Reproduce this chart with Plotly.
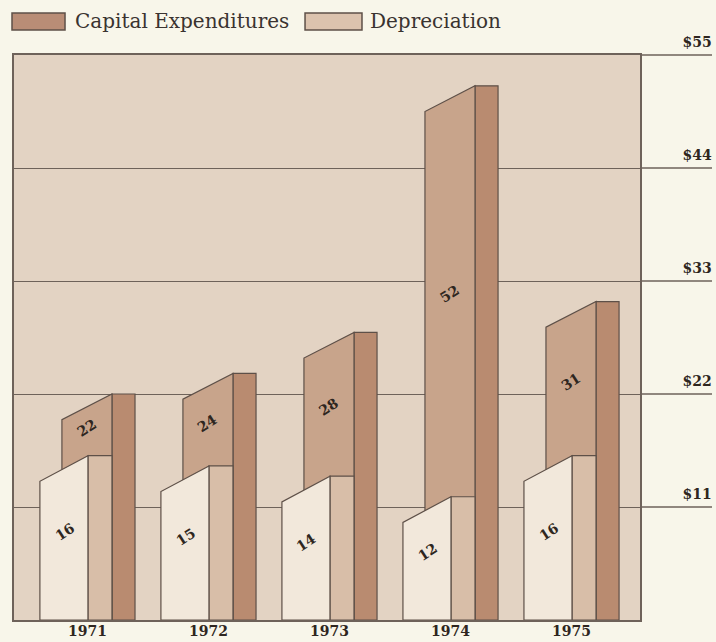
import plotly.graph_objects as go

# ---- data ----
years = ["1971", "1972", "1973", "1974", "1975"]
capital_expenditures = [22, 24, 28, 52, 31]
depreciation = [16, 15, 14, 12, 16]
y_tick_values = [11, 22, 33, 44, 55]
y_tick_labels = ["$11", "$22", "$33", "$44", "$55"]

# ---- styling ----
PAGE_BG = "#f8f6ea"
PLOT_BG = "#e3d3c3"
CAP_FRONT = "#c8a48b"
CAP_SIDE = "#b98b70"
DEP_FRONT = "#f2e8db"
DEP_SIDE = "#d8bea8"
EDGE = "#5e5048"
GRID = "#6e625a"
TEXT = "#2e2620"
SERIF_BOLD = "DejaVu Serif"

# geometry of a group (in category units; 1 unit = spacing between years)
DEP_L, DEP_R, DEP_S = -0.393, 0.004, 0.2025
CAP_L, CAP_R, CAP_S = -0.211, 0.2025, 0.393
SLANT = 2.5  # drop (value units) of the front-face top at its left edge

fig = go.Figure()


def poly(xs, ys, color):
    fig.add_trace(go.Scatter(
        x=xs + [xs[0]], y=ys + [ys[0]], mode="lines", fill="toself",
        fillcolor=color, line=dict(color=EDGE, width=1.2),
        hoverinfo="skip", showlegend=False))


for i, (c, d) in enumerate(zip(capital_expenditures, depreciation)):
    # capital expenditures (behind)
    poly([i + CAP_R, i + CAP_R, i + CAP_S, i + CAP_S], [0, c, c, 0], CAP_SIDE)
    poly([i + CAP_L, i + CAP_L, i + CAP_R, i + CAP_R], [0, c - SLANT, c, 0], CAP_FRONT)
    # depreciation (in front)
    poly([i + DEP_R, i + DEP_R, i + DEP_S, i + DEP_S], [0, d, d, 0], DEP_SIDE)
    poly([i + DEP_L, i + DEP_L, i + DEP_R, i + DEP_R], [0, d - SLANT, d, 0], DEP_FRONT)

# value labels
for i, (c, d) in enumerate(zip(capital_expenditures, depreciation)):
    fig.add_annotation(x=i - 0.01, y=(c + d) / 2 - 0.3, text=str(c), showarrow=False,
                       textangle=-33, font=dict(family=SERIF_BOLD, size=14, color=TEXT,
                                                weight="bold"))
    fig.add_annotation(x=i - 0.19, y=d / 2 + 0.6, text=str(d), showarrow=False,
                       textangle=-33, font=dict(family=SERIF_BOLD, size=14, color=TEXT,
                                                weight="bold"))

ymax = y_tick_values[-1]
# gridline extensions into the label area on the right
for v in y_tick_values:
    fig.add_shape(type="line", xref="paper", yref="paper", x0=1, x1=1.115,
                  y0=v / ymax, y1=v / ymax, line=dict(color=GRID, width=1.4))

# custom legend
legend_items = [("Capital Expenditures", "#b98d76", -0.0032, 0.0815, 0.0942),
                ("Depreciation", "#dcc3ae", 0.4649, 0.5559, 0.5655)]
for name, col, x0, x1, xt in legend_items:
    fig.add_shape(type="rect", xref="paper", yref="paper", x0=x0, x1=x1,
                  y0=1.0442, y1=1.0743, fillcolor=col, line=dict(color=EDGE, width=1.5))
    fig.add_annotation(xref="paper", yref="paper", x=xt, y=1.0595, text=name,
                       showarrow=False, xanchor="left", yanchor="middle",
                       font=dict(family="DejaVu Serif", size=20, color="#3a3330"))

fig.update_layout(
    width=716, height=642,
    margin=dict(l=14, r=76, t=55, b=22),
    paper_bgcolor=PAGE_BG, plot_bgcolor=PLOT_BG,
    showlegend=False,
    xaxis=dict(range=[-0.607, 4.566], tickvals=list(range(len(years))), ticktext=years,
               showgrid=False, zeroline=False, showline=True, mirror=True,
               linecolor=GRID, linewidth=1.5, ticks="", automargin=False,
               ticklabelstandoff=-3,
               tickfont=dict(family=SERIF_BOLD, size=14, color=TEXT, weight="bold"),
               fixedrange=True),
    yaxis=dict(range=[0, ymax], tickvals=y_tick_values, ticktext=y_tick_labels,
               side="right", showgrid=True, gridcolor=GRID, gridwidth=1.4,
               zeroline=False, showline=True, mirror=True, linecolor=GRID, linewidth=1.5,
               ticks="", ticklabelstandoff=38, ticklabelshift=-13, automargin=False,
               tickfont=dict(family=SERIF_BOLD, size=14, color=TEXT, weight="bold"),
               fixedrange=True),
)

fig.write_html("out.html", config={"displayModeBar": False},
               post_script="document.body.style.margin='0';"
                           "document.body.style.background='" + PAGE_BG + "';")
